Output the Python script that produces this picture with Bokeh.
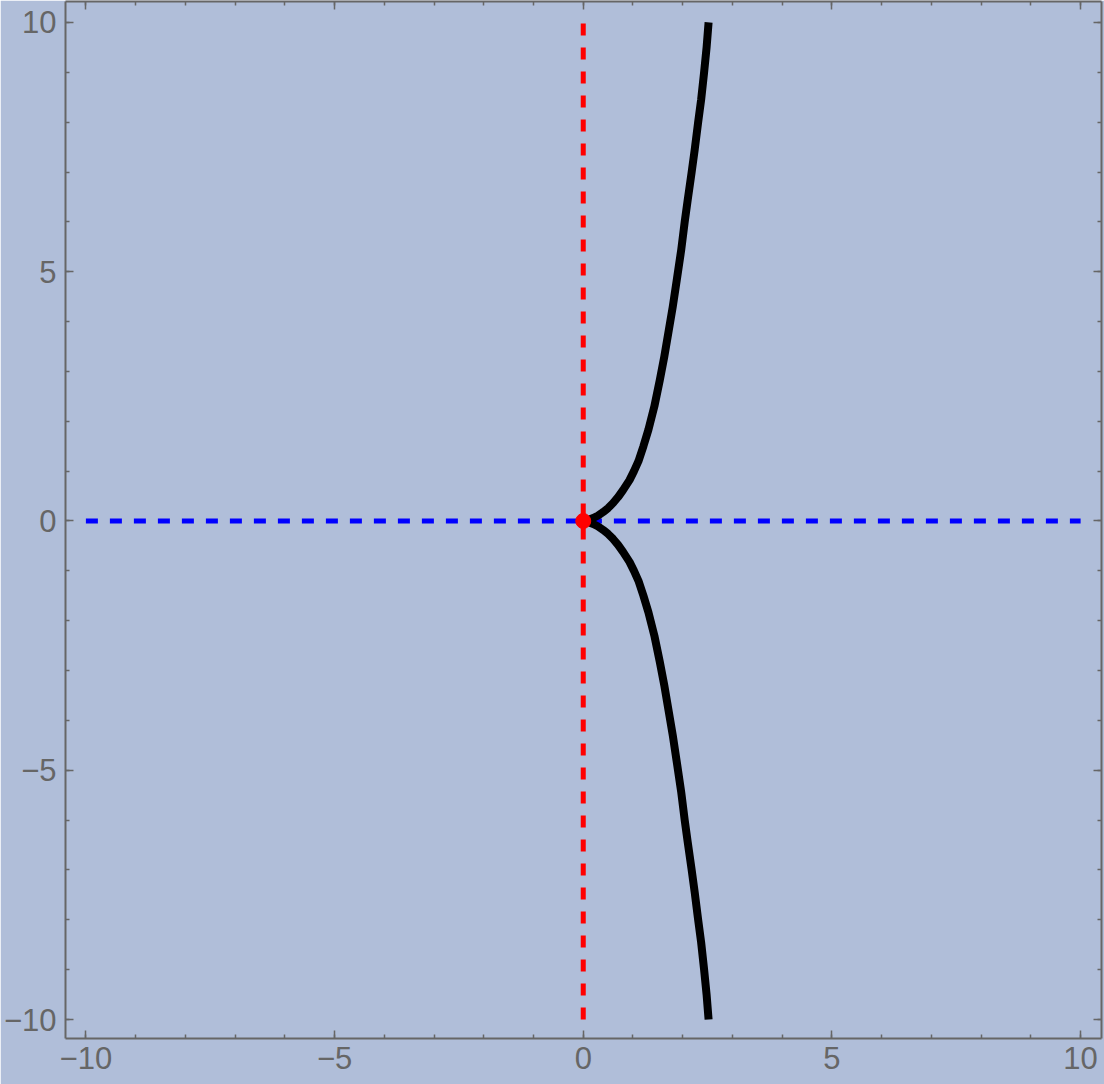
from bokeh.plotting import figure
from bokeh.models import FixedTicker, LinearAxis, Range1d
from bokeh.embed import file_html
from bokeh.resources import INLINE

# ---- data ----
curve_x = [0.0, 0.10, 0.20, 0.30, 0.40, 0.50, 0.60, 0.70, 0.80, 0.93, 1.02, 1.11, 1.21, 1.31,
           1.43, 1.54, 1.63, 1.72, 1.80, 1.88, 1.97, 2.04, 2.10, 2.18, 2.24, 2.31, 2.37, 2.43, 2.48, 2.52]
upper_y = [0.0, 0.02, 0.06, 0.11, 0.18, 0.26, 0.36, 0.48, 0.62, 0.82, 1.00, 1.20, 1.50, 1.83,
           2.30, 2.83, 3.30, 3.83, 4.30, 4.83, 5.44, 6.00, 6.44, 7.00, 7.44, 8.00, 8.45, 9.00, 9.50, 10.0]
lower_y = [0.0, -0.02, -0.06, -0.11, -0.18, -0.26, -0.36, -0.48, -0.62, -0.82, -1.00, -1.20, -1.50, -1.83,
           -2.30, -2.83, -3.30, -3.83, -4.30, -4.83, -5.44, -6.00, -6.44, -7.00, -7.44, -8.00, -8.45, -9.00, -9.50, -10.0]
h_line_x = [-10, 10]
h_line_y = [0, 0]
v_line_x = [0, 0]
v_line_y = [-10, 10]
point_x = [0]
point_y = [0]
major_ticks = [-10, -5, 0, 5, 10]
minor_ticks = list(range(-10, 11))
tick_labels = {-10: "\u221210", -5: "\u22125", 0: "0", 5: "5", 10: "10"}
blank_labels = {-10: "", -5: "", 0: "", 5: "", 10: ""}

BG = "#B0BED9"
AX = "#666666"
FONT = "Liberation Sans"

p = figure(width=1104, height=1084,
           x_range=Range1d(-10.41, 10.42), y_range=Range1d(-10.38, 10.42),
           output_backend="svg", toolbar_location=None,
           min_border_left=63, min_border_right=3, min_border_top=1, min_border_bottom=46,
           background_fill_color=BG, border_fill_color=BG)
p.outline_line_color = None
p.xgrid.visible = False
p.ygrid.visible = False

def style(ax, labels=True):
    ax.ticker = FixedTicker(ticks=major_ticks, minor_ticks=minor_ticks)
    ax.axis_line_color = AX
    ax.axis_line_width = 2
    ax.major_tick_line_color = AX
    ax.minor_tick_line_color = AX
    ax.major_tick_line_width = 1.5
    ax.minor_tick_line_width = 1.5
    ax.major_tick_in = 8
    ax.major_tick_out = 0
    ax.minor_tick_in = 4
    ax.minor_tick_out = 0
    if labels:
        ax.major_label_overrides = tick_labels
        ax.major_label_text_font = FONT
        ax.major_label_text_font_size = "31px"
        ax.major_label_text_color = AX
    else:
        ax.major_label_overrides = blank_labels
        ax.major_label_text_font_size = "1px"
        ax.major_label_standoff = 0

style(p.xaxis[0])
style(p.yaxis[0])
p.xaxis[0].major_label_standoff = 8
p.yaxis[0].major_label_standoff = 9

top = LinearAxis()
style(top, labels=False)
p.add_layout(top, "above")
right = LinearAxis()
style(right, labels=False)
p.add_layout(right, "right")

p.line(h_line_x, h_line_y, line_color="#0000FF", line_width=5, line_dash="12 12")
p.line(v_line_x, v_line_y, line_color="#FF0000", line_width=5, line_dash="12 12")
p.line(curve_x, upper_y, line_color="black", line_width=8, line_join="round")
p.line(curve_x, lower_y, line_color="black", line_width=8, line_join="round")
p.scatter(point_x, point_y, size=15, color="#FF0000")

html = file_html(p, INLINE)
html = html.replace("<body>", '<body style="margin:0;background-color:%s;">' % BG, 1)
open("out.html", "w").write(html)
